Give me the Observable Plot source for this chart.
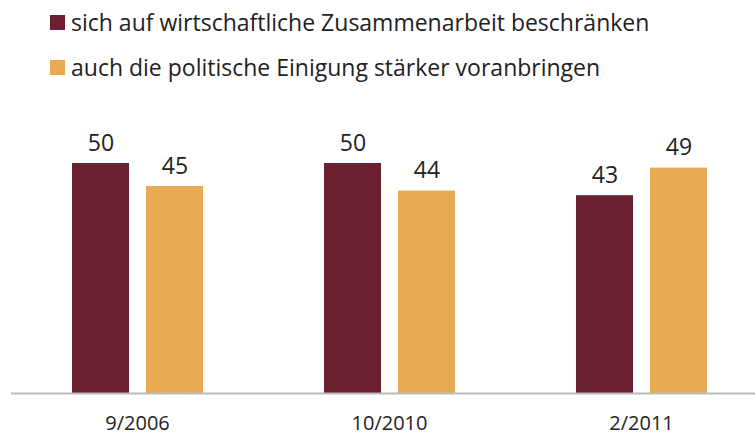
<!DOCTYPE html>
<html><head><meta charset="utf-8">
<script src="https://cdn.jsdelivr.net/npm/d3@7"></script>
<script src="https://cdn.jsdelivr.net/npm/@observablehq/plot@0.6"></script>
<style>
html,body{margin:0;padding:0;background:#fff;overflow:hidden;width:755px;height:436px}
#legend{position:relative;height:90px;font-family:"Open Sans",sans-serif;font-size:23px;color:#222}
.item{position:absolute;left:50px;display:flex;align-items:center;white-space:nowrap}
.sw{width:15px;height:15px;margin-right:6px}
</style></head>
<body>
<div id="legend"></div>
<div id="chart"></div>
<script>
const periods = ["9/2006", "10/2010", "2/2011"];
const seriesNames = ["sich auf wirtschaftliche Zusammenarbeit beschränken", "auch die politische Einigung stärker voranbringen"];
const seriesColors = ["#6b1f2f", "#e8ab54"];
const economic = [50, 50, 43];
const political = [45, 44, 49];

const data = [];
periods.forEach((p, i) => {
  data.push({period: p, series: seriesNames[0], value: economic[i]});
  data.push({period: p, series: seriesNames[1], value: political[i]});
});

const legend = document.getElementById("legend");
seriesNames.forEach((s, i) => {
  const d = document.createElement("div");
  d.className = "item";
  d.style.top = (i === 0 ? 6 : 51) + "px";
  d.innerHTML = `<span class="sw" style="background:${seriesColors[i]}"></span><span>${s}</span>`;
  legend.appendChild(d);
});

const chart = Plot.plot({
  width: 755,
  height: 346,
  marginLeft: 11,
  marginRight: 0,
  marginTop: 27,
  marginBottom: 43,
  style: {fontFamily: "Open Sans, sans-serif", color: "#222", background: "#fff"},
  fx: {domain: periods, range: [11, 767], paddingInner: 0, paddingOuter: 0, label: null},
  x: {domain: seriesNames, axis: null, paddingInner: 0.235, paddingOuter: 0.809},
  y: {domain: [0, 60], axis: null},
  color: {domain: seriesNames, range: seriesColors},
  marks: [
    Plot.axisFx({anchor: "bottom", tickSize: 0, tickPadding: 22, fontSize: 20, label: null, fill: "#222"}),
    Plot.barY(data, {fx: "period", x: "series", y: "value", fill: "series"}),
    Plot.ruleY([0], {stroke: "#bbb", strokeWidth: 2}),
    Plot.text(data, {fx: "period", x: "series", y: "value", text: d => String(d.value), dy: -20, fontSize: 23, fill: "#222"})
  ]
});
document.getElementById("chart").appendChild(chart);
</script>
</body></html>
